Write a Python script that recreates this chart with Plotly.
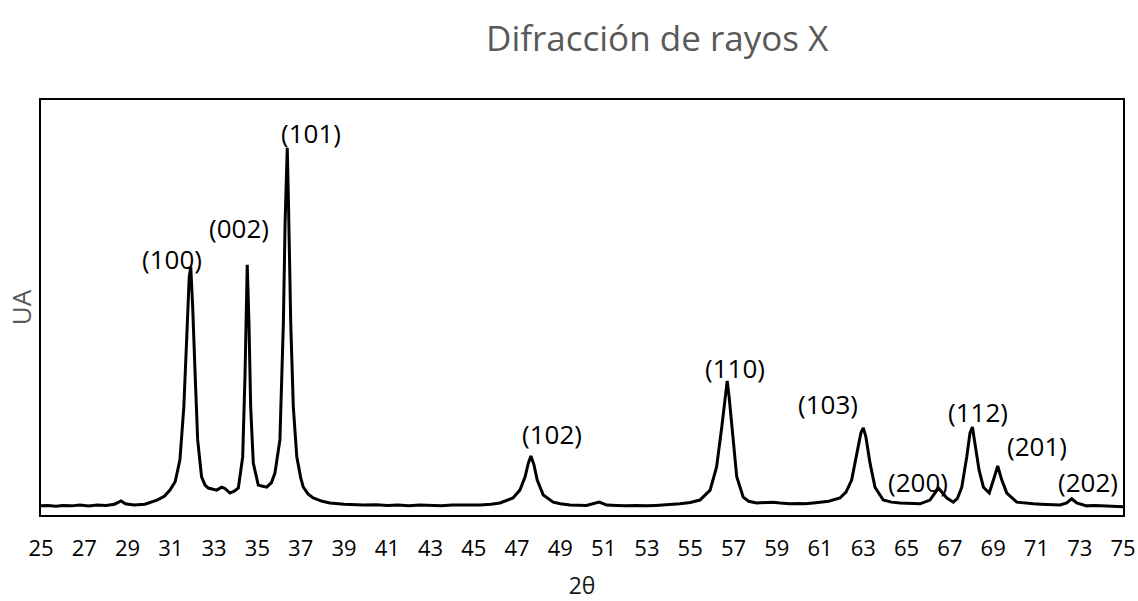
import plotly.graph_objects as go

two_theta = [
    25.0, 25.3, 25.7, 26.0, 26.4, 26.8, 27.2, 27.6, 28.0, 28.4, 28.7, 28.9,
    29.3, 29.8, 30.36, 30.7, 30.96, 31.2, 31.42, 31.6, 31.73, 31.85, 31.92,
    32.01, 32.12, 32.24, 32.42, 32.58, 32.73, 32.9, 33.12, 33.35, 33.5, 33.73,
    33.95, 34.12, 34.32, 34.43, 34.5, 34.53, 34.61, 34.69, 34.81, 35.04, 35.2,
    35.43, 35.65, 35.81, 36.04, 36.2, 36.28, 36.35, 36.38, 36.44, 36.54, 36.66,
    36.82, 37.0, 37.12, 37.35, 37.58, 38.0, 38.35, 39.0, 39.5, 39.9, 40.5,
    41.0, 41.5, 42.0, 42.5, 43.0, 43.5, 44.0, 44.5, 45.29, 45.8, 46.21, 46.81,
    47.13, 47.37, 47.52, 47.64, 47.78, 47.93, 48.21, 48.67, 49.0, 49.45, 50.2,
    50.8, 51.14, 51.6, 52.0, 52.5, 52.99, 53.4, 53.8, 54.2, 54.53, 55.0, 55.45,
    55.92, 56.22, 56.46, 56.61, 56.71, 56.8, 56.96, 57.15, 57.45, 57.7, 58.07,
    58.5, 58.84, 59.15, 59.6, 60.0, 60.3, 60.69, 61.0, 61.4, 61.92, 62.2,
    62.46, 62.72, 62.89, 63.0, 63.12, 63.31, 63.54, 63.92, 64.3, 64.7, 65.2,
    65.62, 66.08, 66.47, 66.86, 67.16, 67.35, 67.55, 67.78, 67.93, 68.04,
    68.16, 68.35, 68.55, 68.82, 69.04, 69.21, 69.4, 69.63, 70.09, 70.5, 70.86,
    71.2, 71.5, 71.8, 72.09, 72.4, 72.63, 72.86, 73.32, 73.7, 74.0, 74.4,
    74.86, 75.0,
]
intensity = [
    22, 23, 21, 23, 22, 24, 22, 24, 23, 26, 34, 27,
    24, 26, 36, 45, 60, 80, 133, 260, 422, 574, 598,
    501, 342, 181, 92, 72, 65, 62, 60, 67, 64, 53,
    58, 65, 140, 342, 542, 603, 463, 260, 125, 72, 70,
    67, 78, 101, 181, 463, 704, 880, 884, 742, 463, 260,
    140, 90, 67, 50, 41, 33, 29, 26, 25, 24, 25,
    23, 24, 22, 24, 23, 22, 24, 24, 24, 26, 29, 41,
    60, 92, 125, 142, 121, 84, 48, 31, 27, 24, 23,
    31, 24, 23, 22, 23, 22, 23, 24, 25, 27, 30, 36,
    60, 116, 212, 284, 323, 284, 188, 92, 43, 33, 29,
    30, 31, 29, 27, 28, 27, 29, 30, 33, 41, 55,
    84, 149, 198, 210, 188, 125, 67, 36, 31, 29, 27,
    27, 36, 65, 41, 31, 40, 67, 140, 198, 212,
    174, 108, 67, 53, 89, 118, 84, 53, 31, 28, 27,
    26, 25, 24, 24, 29, 39, 29, 22, 23, 22, 21,
    19, 20,
]

# Miller-index labels and their positions
peak_labels = ["(100)", "(002)", "(101)", "(102)", "(110)", "(103)",
               "(200)", "(112)", "(201)", "(202)"]
label_x = [31.05, 34.15, 37.48, 48.61, 57.07, 61.37, 65.53, 68.30, 71.03, 73.38]
label_y = [617, 691, 920, 195, 354, 267, 79, 248, 166, 79]

tick_vals = list(range(25, 76, 2))
tick_text = [str(v) for v in tick_vals]

FONT = "Open Sans"

fig = go.Figure()
fig.add_trace(go.Scatter(
    x=two_theta, y=intensity, mode="lines",
    line=dict(color="black", width=3),
    showlegend=False, hoverinfo="skip",
))

for txt, lx, ly in zip(peak_labels, label_x, label_y):
    fig.add_annotation(x=lx, y=ly, xref="x", yref="y", text=txt,
                       showarrow=False, xanchor="center", yanchor="middle",
                       font=dict(family=FONT, size=26, color="black"))

fig.add_annotation(x=0.57, y=1.15, xref="paper", yref="paper", text="Difracción de rayos X",
                   showarrow=False, xanchor="center", yanchor="middle",
                   font=dict(family=FONT, size=35, color="#595959"))

fig.update_layout(
    width=1138, height=601,
    margin=dict(l=41, r=15, t=100, b=86, autoexpand=False),
    paper_bgcolor="white", plot_bgcolor="white",
    font=dict(family=FONT, color="black"),
    xaxis=dict(
        range=[25, 75], tickmode="array", tickvals=tick_vals, ticktext=tick_text,
        showgrid=False, zeroline=False, ticks="", automargin=False,
        showline=True, mirror=True, linecolor="black", linewidth=2,
        tickfont=dict(family=FONT, size=22, color="black"),
        ticklabelstandoff=13,
        title=dict(text="2θ", font=dict(family=FONT, size=23, color="#1a1a1a"), standoff=19),
    ),
    yaxis=dict(
        range=[0, 1000], showticklabels=False, showgrid=False, zeroline=False, ticks="",
        automargin=False,
        showline=True, mirror=True, linecolor="black", linewidth=2,
        title=dict(text="UA", font=dict(family=FONT, size=26, color="#595959"), standoff=0),
    ),
)

fig.write_html("out.html")
